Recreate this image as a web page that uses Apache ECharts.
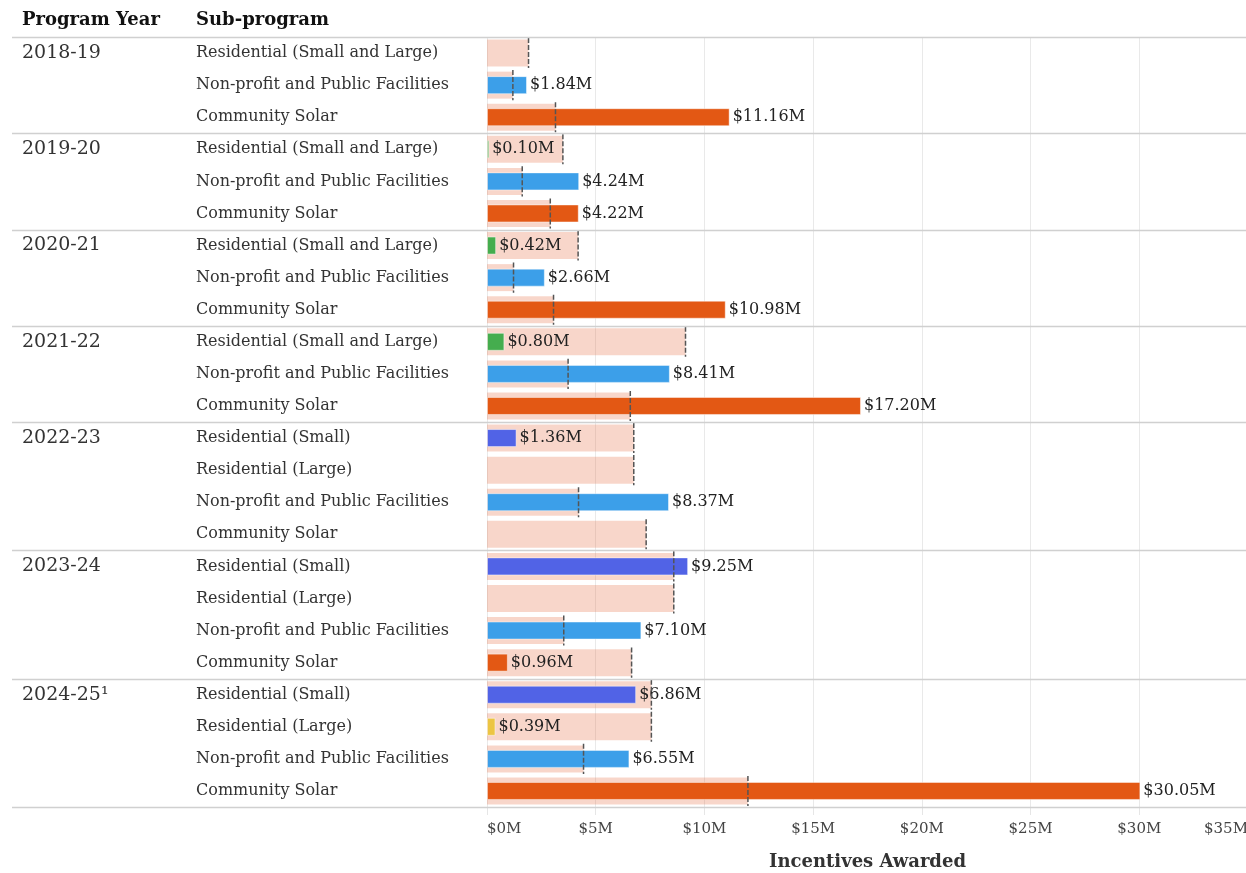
<!DOCTYPE html>
<html>
<head>
<meta charset="utf-8">
<script src="https://cdn.jsdelivr.net/npm/echarts@6/dist/echarts.min.js"></script>
<style>
  html, body { margin: 0; padding: 0; background: #fff; }
  #chart { width: 1246px; height: 873px; }
</style>
</head>
<body>
<div id="chart"></div>
<script>
// Program years, one per row (the year label is shown on the first row of each group)
const rowYears = [
  '2018-19', '2018-19', '2018-19',
  '2019-20', '2019-20', '2019-20',
  '2020-21', '2020-21', '2020-21',
  '2021-22', '2021-22', '2021-22',
  '2022-23', '2022-23', '2022-23', '2022-23',
  '2023-24', '2023-24', '2023-24', '2023-24',
  '2024-25¹', '2024-25¹', '2024-25¹', '2024-25¹'
];

const rowSubPrograms = [
  'Residential (Small and Large)', 'Non-profit and Public Facilities', 'Community Solar',
  'Residential (Small and Large)', 'Non-profit and Public Facilities', 'Community Solar',
  'Residential (Small and Large)', 'Non-profit and Public Facilities', 'Community Solar',
  'Residential (Small and Large)', 'Non-profit and Public Facilities', 'Community Solar',
  'Residential (Small)', 'Residential (Large)', 'Non-profit and Public Facilities', 'Community Solar',
  'Residential (Small)', 'Residential (Large)', 'Non-profit and Public Facilities', 'Community Solar',
  'Residential (Small)', 'Residential (Large)', 'Non-profit and Public Facilities', 'Community Solar'
];

// Incentives awarded, $M (null = nothing awarded)
const awarded = [
  null, 1.84, 11.16,
  0.10, 4.24, 4.22,
  0.42, 2.66, 10.98,
  0.80, 8.41, 17.20,
  1.36, null, 8.37, null,
  9.25, null, 7.10, 0.96,
  6.86, 0.39, 6.55, 30.05
];

// Funding allocated, $M (shaded band + dashed marker)
const allocated = [
  1.91, 1.19, 3.15,
  3.49, 1.62, 2.91,
  4.19, 1.22, 3.06,
  9.13, 3.73, 6.59,
  6.75, 6.75, 4.21, 7.32,
  8.59, 8.59, 3.53, 6.65,
  7.56, 7.56, 4.44, 12.00
];

const xTicks = [0, 5, 10, 15, 20, 25, 30, 35];

const subProgramColors = {
  'Residential (Small and Large)': '#45ad4e',
  'Non-profit and Public Facilities': '#3c9fe9',
  'Community Solar': '#e35814',
  'Residential (Small)': '#5163e6',
  'Residential (Large)': '#ecc543'
};

const FONT = '"DejaVu Serif", serif';
const rowIds = rowSubPrograms.map((_, i) => String(i));

const chart = echarts.init(document.getElementById('chart'), null, { renderer: 'canvas' });

// Both category axes share the same rows; the allocation band sits on the
// second one so its bars are laid out independently of the awarded bars.
const categoryAxis = (labelCfg) => ({
  type: 'category',
  data: rowIds,
  inverse: true,
  position: 'left',
  axisLine: { show: false },
  axisTick: { show: false },
  splitLine: { show: false },
  axisLabel: Object.assign({ interval: 0, align: 'left', fontFamily: FONT, color: '#333' }, labelCfg)
});

const option = {
  animation: false,
  backgroundColor: '#fff',
  textStyle: { fontFamily: FONT },
  grid: { left: 487, right: -2, top: 37, bottom: 66, containLabel: false, outerBoundsMode: 'none' },
  xAxis: {
    type: 'value',
    min: xTicks[0],
    max: xTicks[xTicks.length - 1],
    interval: 5,
    name: 'Incentives Awarded',
    nameLocation: 'middle',
    nameGap: 46,
    nameTextStyle: { fontFamily: FONT, fontWeight: 'bold', fontSize: 18, color: '#333' },
    axisLine: { show: false },
    axisTick: { show: true, length: 8, lineStyle: { color: '#e6e6e6' } },
    splitLine: { show: true, lineStyle: { color: '#e9e9e9', width: 1 } },
    axisLabel: {
      margin: 15,
      fontFamily: FONT, fontSize: 15, color: '#444',
      alignMinLabel: 'left', alignMaxLabel: 'right',
      formatter: v => '$' + v + 'M'
    }
  },
  yAxis: [
    categoryAxis({
      margin: 291, fontSize: 16,
      formatter: (v, i) => rowSubPrograms[i]
    }),
    categoryAxis({
      margin: 465, fontSize: 19,
      formatter: (v, i) => (i === 0 || rowYears[i] !== rowYears[i - 1]) ? rowYears[i] : ''
    })
  ],
  series: [
    {
      name: 'Allocated',
      type: 'bar',
      yAxisIndex: 1,
      data: allocated,
      barWidth: 27,
      itemStyle: { color: 'rgba(232,120,80,0.3)' },
      z: 1,
      silent: true
    },
    {
      name: 'Awarded',
      type: 'bar',
      yAxisIndex: 0,
      data: awarded.map((v, i) => v === null ? null : {
        value: v,
        itemStyle: { color: subProgramColors[rowSubPrograms[i]] }
      }),
      barWidth: 18,
      itemStyle: { borderColor: 'rgba(255,255,255,0.45)', borderWidth: 1 },
      label: {
        show: true,
        position: 'right',
        distance: 3,
        fontFamily: FONT, fontSize: 16, color: '#222',
        formatter: p => '$' + p.value.toFixed(2) + 'M'
      },
      z: 3
    },
    {
      name: 'Allocation marker',
      type: 'custom',
      yAxisIndex: 0,
      data: allocated.map((v, i) => [v, i]),
      encode: { x: 0, y: 1 },
      renderItem: (params, api) => {
        const p = api.coord([api.value(0), api.value(1)]);
        const h = api.size([0, 1])[1];
        return {
          type: 'line',
          shape: { x1: p[0], y1: p[1] - h / 2 + 1, x2: p[0], y2: p[1] + h / 2 - 1 },
          style: { stroke: '#555', lineWidth: 1.5, lineDash: [5, 2] }
        };
      },
      z: 4,
      silent: true
    }
  ]
};

chart.setOption(option);

// Header labels and horizontal group separators, placed from the category axis
const c0 = chart.convertToPixel({ yAxisIndex: 0 }, '0');
const c1 = chart.convertToPixel({ yAxisIndex: 0 }, '1');
const band = c1 - c0;
const topY = c0 - band / 2;
const boundaries = [0];
for (let i = 1; i <= rowYears.length; i++) {
  if (i === rowYears.length || rowYears[i] !== rowYears[i - 1]) boundaries.push(i);
}
const separators = boundaries.map(k => {
  const y = Math.round(topY + k * band) + 0.5;
  return {
    type: 'line',
    silent: true,
    z: 10,
    shape: { x1: 12, y1: y, x2: 1246, y2: y },
    style: { stroke: '#d0d0d0', lineWidth: 1.5 }
  };
});

chart.setOption({
  graphic: [
    {
      type: 'text', left: 22, top: topY - 26, silent: true,
      style: { text: 'Program Year', font: 'bold 18px ' + FONT, fill: '#111' }
    },
    {
      type: 'text', left: 196, top: topY - 26, silent: true,
      style: { text: 'Sub-program', font: 'bold 18px ' + FONT, fill: '#111' }
    }
  ].concat(separators)
});
</script>
</body>
</html>
